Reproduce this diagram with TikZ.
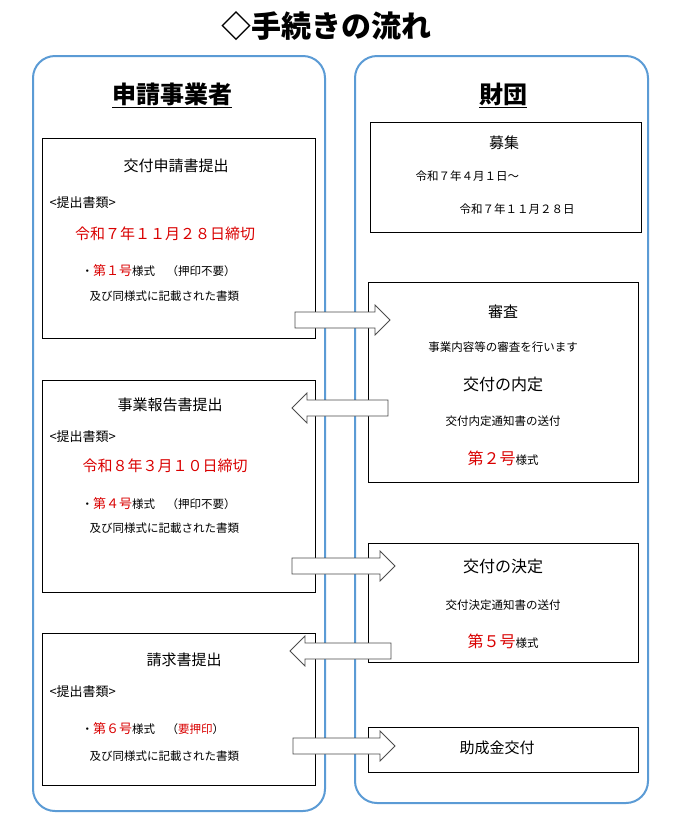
\documentclass[tikz,border=0pt]{standalone}
\usepackage{fontspec}
\setmainfont{Noto Sans CJK JP}
\begin{document}
\begin{tikzpicture}[x=1pt,y=-1pt,
  panel/.style={draw={rgb,255:red,91;green,155;blue,213}, line width=2pt, rounded corners=22pt},
  box/.style={draw=black, line width=0.9pt},
  ttl/.style={font=\fontsize{15}{17}\selectfont},
  sm/.style={font=\fontsize{11.5}{13}\selectfont}]
\useasboundingbox (0,0) rectangle (687,831);
\colorlet{rd}{red!85!black}
\newcommand{\blockR}[3]{\draw[fill=white,draw=black!70,line width=0.8pt] (#1,#3-8) -- (#2-15,#3-8) -- (#2-15,#3-15) -- (#2,#3) -- (#2-15,#3+15) -- (#2-15,#3+8) -- (#1,#3+8) -- cycle;}
\newcommand{\blockL}[3]{\draw[fill=white,draw=black!70,line width=0.8pt] (#2,#3-8) -- (#1+15,#3-8) -- (#1+15,#3-15) -- (#1,#3) -- (#1+15,#3+15) -- (#1+15,#3+8) -- (#2,#3+8) -- cycle;}
\node[font=\fontsize{30}{32}\selectfont\bfseries] (title) at (326,26) {◇手続きの流れ};
\draw[panel] (33,56) rectangle (325,811);
\draw[panel] (355,56) rectangle (648,803);
\node[font=\fontsize{24}{26}\selectfont\bfseries] (h1) at (172,95) {\underline{申請事業者}};
\node[font=\fontsize{24}{26}\selectfont\bfseries] (h2) at (503,95) {\underline{財団}};
% left boxes
\draw[box] (42,138) rectangle (315,338);
\draw[box] (42,380) rectangle (315,592);
\draw[box] (42,633) rectangle (315,785);
% right boxes
\draw[box] (370,122) rectangle (641,232);
\draw[box] (368,282) rectangle (638,482);
\draw[box] (368,543) rectangle (638,662);
\draw[box] (368,727) rectangle (638,772);
% arrows
\blockR{295}{390}{320}
\blockL{292}{388}{408}
\blockR{292}{395}{566}
\blockL{290}{391}{651}
\blockR{293}{395}{746}
% box1
\node[ttl] (b1t) at (176,166) {交付申請書提出};
\node[font=\fontsize{13}{15}\selectfont,anchor=west] (b1d) at (46,203) {<提出書類>};
\node[ttl,text=rd] (b1r) at (165,234) {令和７年１１月２８日締切};
\node[sm,anchor=west] (b1a) at (78,271) {・\textcolor{rd}{\fontsize{13}{15}\selectfont 第１号}様式　（押印不要）};
\node[sm,anchor=west] (b1b) at (86,296) {及び同様式に記載された書類};
% box2
\node[ttl] (b2t) at (170,405) {事業報告書提出};
\node[font=\fontsize{13}{15}\selectfont,anchor=west] (b2d) at (46,437) {<提出書類>};
\node[ttl,text=rd] (b2r) at (165,466) {令和８年３月１０日締切};
\node[sm,anchor=west] (b2a) at (78,504) {・\textcolor{rd}{\fontsize{13}{15}\selectfont 第４号}様式　（押印不要）};
\node[sm,anchor=west] (b2b) at (86,528) {及び同様式に記載された書類};
% box3
\node[ttl] (b3t) at (184,660) {請求書提出};
\node[font=\fontsize{13}{15}\selectfont,anchor=west] (b3d) at (46,692) {<提出書類>};
\node[sm,anchor=west] (b3a) at (78,729) {・\textcolor{rd}{\fontsize{13}{15}\selectfont 第６号}様式　（\textcolor{rd}{要押印}）};
\node[sm,anchor=west] (b3b) at (86,756) {及び同様式に記載された書類};
% right texts
\node[ttl] (r1t) at (504,143) {募集};
\node[sm,anchor=west] (r1a) at (412,176) {令和７年４月１日～};
\node[sm,anchor=west] (r1b) at (456,209) {令和７年１１月２８日};
\node[ttl] (r2t) at (503,312) {審査};
\node[sm] (r2a) at (503,347) {事業内容等の審査を行います};
\node[font=\fontsize{16}{18}\selectfont] (r2b) at (503,384) {交付の内定};
\node[sm] (r2c) at (503,421) {交付内定通知書の送付};
\node[sm] (r2d) at (503,458) {\textcolor{rd}{\fontsize{16}{18}\selectfont 第２号}様式};
\node[font=\fontsize{16}{18}\selectfont] (r3t) at (503,566) {交付の決定};
\node[sm] (r3a) at (503,605) {交付決定通知書の送付};
\node[sm] (r3b) at (503,641) {\textcolor{rd}{\fontsize{16}{18}\selectfont 第５号}様式};
\node[ttl] (r4t) at (497,748) {助成金交付};
\end{tikzpicture}
\end{document}
